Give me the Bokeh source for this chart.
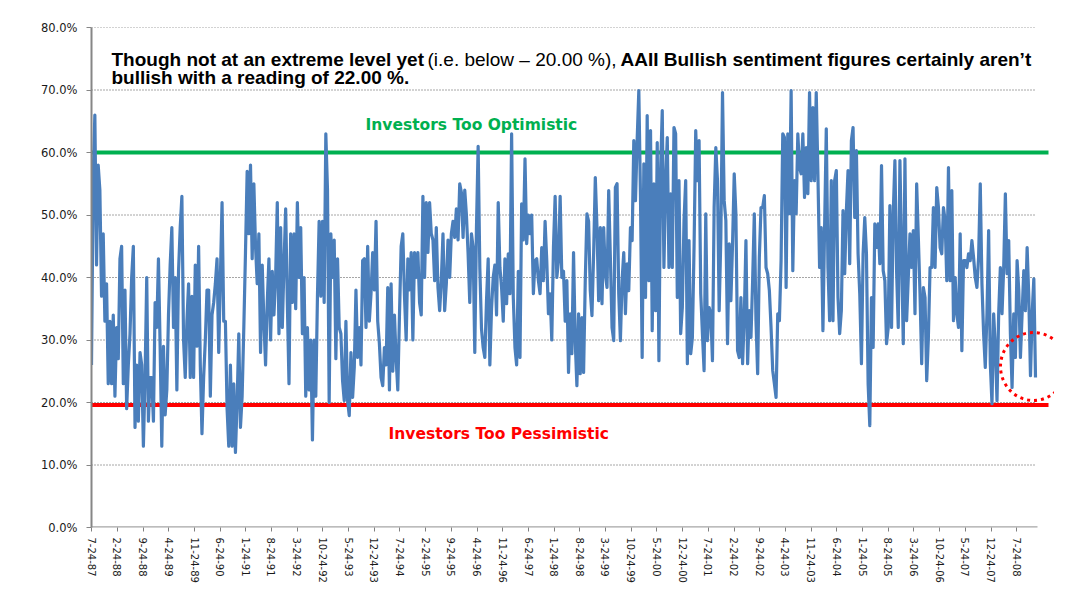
import datetime as dt
import pandas as pd
from bokeh.plotting import figure
from bokeh.models import Range1d, FixedTicker, PrintfTickFormatter, Label, ColumnDataSource
from bokeh.embed import file_html
from bokeh.resources import INLINE

# ---------------- data (AAII bullish %) ----------------
BULLISH_PART_1 = [
    26, 56, 66, 42, 58, 54, 37, 47, 33, 39,
    23, 33, 23, 34, 21, 32, 27, 43, 45, 23,
    38, 19, 26, 31, 40, 45, 16, 26, 17, 28,
    26, 13, 24, 40, 17, 24, 24, 17, 36, 32,
    43, 29, 13, 29, 18, 22, 34, 42, 48, 32,
    40, 22, 41, 48, 53, 30, 24, 33, 39, 24,
    37, 24, 42, 29, 45, 26, 15, 24, 30, 38,
    38, 21, 34, 36, 39, 43, 28, 40, 52, 33,
    33, 19, 13, 26, 13, 23, 12, 20, 31, 16,
    21, 32, 44, 57, 47, 58, 43, 55, 45, 39,
    47, 28, 42, 33, 26, 36, 43, 30, 41, 34,
    40, 52, 31, 48, 32, 42, 51, 36, 23, 47,
    36, 47, 35, 52, 40, 48, 31, 40, 21, 32,
    22, 30, 14, 30, 21, 37, 49, 37, 49, 36,
]
BULLISH_PART_2 = [
    63, 54, 20, 47, 40, 46, 27, 43, 32, 31,
    23.5, 20.3, 33, 20.3, 17.9, 28, 20.8, 25.6, 38, 27.2,
    32, 26, 42.7, 43, 32, 45, 33, 37.4, 44, 38,
    49, 33, 29.4, 24, 22.7, 28.8, 26, 38.4, 22, 39,
    25, 34, 27, 22, 34, 45, 47, 37, 30, 43,
    38, 44, 30, 44, 40, 44, 36, 34, 53, 40,
    52, 44, 52, 47, 46, 39.5, 48, 38.4, 34.7, 39.5,
    47, 34.7, 39, 46, 40, 47, 49, 46.4, 51, 46,
    55, 53.6, 46.4, 54, 50, 43.8, 36, 47, 44.8, 28,
    48, 61, 41.6, 31.8, 28.8, 27.2, 36.3, 43, 26, 35,
    40, 42, 34, 52, 41.6, 38.4, 33, 43, 35.8, 43.8,
    37.4, 63, 36.8, 28.8, 26, 41, 27.2, 51.8, 46, 59,
    45.4, 50, 47, 50, 37.4, 42.7, 43, 39.5, 37.4, 44.8,
    39.5, 49, 42.7, 34.2, 37.4, 30, 44.8, 53, 40, 42.7, 53, 40,
]
BULLISH_PART_3 = [
    41, 33, 39.5, 24.8, 34.2, 27.8, 44, 29.9, 22.7, 34.2,
    24.6, 33.6, 24.8, 39.5, 50.2, 49, 37.9, 33.9, 43.8, 56,
    48, 36.3, 48, 35.8, 48, 40.6, 38.4, 53.9, 43.2, 32,
    29.9, 54.4, 55, 37.4, 29.9, 39.5, 44, 34.2, 42.2, 37.9,
    48, 45.9, 61.9, 52.3, 61.9, 69.9, 52.8, 27.2, 58.2, 36.8,
    65.9, 39.5, 63.5, 31.5, 55, 34.7, 61.6, 26.7, 57.1, 66.7,
    41.6, 55, 62.4, 41.6, 53.4, 41.6, 64, 63, 36.8, 55.5,
    31, 35.2, 49.1, 55.5, 26.2, 45.9, 27.8, 30.4, 44.8, 63.5,
    55.5, 61.9, 37.4, 31, 25.1, 50.2, 29.9, 35.2, 34.2, 26.7,
    51.2, 60.8, 55.5, 34.7, 46.4, 69.6, 52.3, 49.1, 29.4, 45.4,
    36.3, 45.4, 56.6, 50.2, 28.3, 27.2, 36.8, 26.2, 33.6, 45.9,
    26.2, 34.7, 30.4, 39.5, 50.2, 33.1, 24.6, 43.2, 51.2, 51.2,
    53.1, 41.6, 40.6, 37.9, 32, 25.1, 23, 20.8, 34.2, 33.1,
    42.7, 63, 62.4, 38.4, 63, 50.2, 69.9, 41.1, 55.5, 50.2, 63, 57.6,
]
BULLISH_PART_4 = [
    56.6, 63, 52.8, 60.8, 53.4, 69.6, 55.5, 67.2, 55.5, 69.6,
    56.6, 41.6, 48, 31.5, 48, 63.8, 41.6, 33.1, 55.5, 33.1,
    55.5, 57.1, 36.8, 31, 34.7, 50.7, 40.6, 50.7, 57.1, 42.2,
    61.9, 64, 49.6, 60.3, 43.8, 37.4, 26.2, 43.8, 49.6, 43.8,
    23, 16.3, 36.8, 28.8, 48.6, 44.8, 48.6, 42.2, 57.9, 41.1,
    39.5, 29.4, 32, 51.5, 32, 50.2, 58.7, 41.1, 32, 58.7,
    43.8, 29.4, 59, 33.1, 40, 47, 41.6, 47.5, 34.2, 55,
    46.4, 37.4, 26.2, 38.4, 36.8, 23.5, 30.4, 41.6, 41.6, 51.2,
    41.6, 54.4, 51.2, 44.8, 43.8, 51.2, 49.1, 39.5, 57.6, 39.5,
    53.9, 33.1, 40, 34.2, 32, 47, 28.3, 42.7, 42.7, 41.6,
    43.8, 42.7, 45.9, 43.2, 40, 38.4, 43.2, 55, 39, 31,
    25.6, 34.2, 47.5, 26.2, 19.8, 34.2, 28.8, 20.3, 34.2, 41.6,
    34.2, 41.6, 53.4, 40.6, 45.9, 31, 22.4, 34.2, 27.2, 42.7,
    37.9, 27.2, 34.2, 41.1, 34.7, 44.8, 36.8, 24.3, 34.2, 39.8, 24,
]
DATA_START = "1987-07-24"
DATA_END = "2008-12-26"

TICK_LABELS = [
    "7-24-87", "2-24-88", "9-24-88", "4-24-89", "11-24-89", "6-24-90", "1-24-91",
    "8-24-91", "3-24-92", "10-24-92", "5-24-93", "12-24-93", "7-24-94", "2-24-95",
    "9-24-95", "4-24-96", "11-24-96", "6-24-97", "1-24-98", "8-24-98", "3-24-99",
    "10-24-99", "5-24-00", "12-24-00", "7-24-01", "2-24-02", "9-24-02", "4-24-03",
    "11-24-03", "6-24-04", "1-24-05", "8-24-05", "3-24-06", "10-24-06", "5-24-07",
    "12-24-07", "7-24-08",
]
Y_TICKS = [0, 10, 20, 30, 40, 50, 60, 70, 80]
OPTIMISTIC_LEVEL = 60.0
PESSIMISTIC_LEVEL = 19.6

TITLE_BOLD_1 = "Though not at an extreme level yet "
TITLE_NORMAL = "(i.e. below \u2013 20.00 %),"
TITLE_BOLD_2 = "AAII Bullish sentiment figures certainly aren\u2019t"
TITLE_LINE_2 = "bullish with a reading of 22.00 %."
OPTIMISTIC_TEXT = "Investors Too Optimistic"
PESSIMISTIC_TEXT = "Investors Too Pessimistic"

# ---------------- helpers ----------------
EPOCH = pd.Timestamp("1970-01-01")


def ms(ts):
    return int((pd.Timestamp(ts) - EPOCH) // pd.Timedelta(milliseconds=1))


values = BULLISH_PART_1 + BULLISH_PART_2 + BULLISH_PART_3 + BULLISH_PART_4
dates = pd.date_range(DATA_START, DATA_END, periods=len(values))

start_ts = pd.Timestamp(DATA_START)
end_ts = pd.Timestamp(DATA_END)
# layout geometry (pixels of the picture)
PX_START, PX_END = 91, 1035
DAYS_PER_PX = (end_ts - start_ts).days / (PX_END - PX_START)
PX_ZERO, PX_PER_PCT = 527.0, 6.25


def px_x(px):
    return ms(start_ts + pd.Timedelta(days=(px - PX_START) * DAYS_PER_PX))


def px_y(py):
    return (PX_ZERO - py) / PX_PER_PCT


x_start = ms(start_ts)
x_end = px_x(1054)

p = figure(
    width=1054, height=595,
    x_axis_type="datetime",
    x_range=Range1d(start=x_start, end=x_end),
    y_range=Range1d(start=0, end=80),
    output_backend="svg", toolbar_location=None,
    min_border_left=91, min_border_right=0, min_border_top=27, min_border_bottom=68,
)
p.outline_line_color = None
p.background_fill_color = "white"
p.border_fill_color = "white"
p.xgrid.grid_line_color = None
p.ygrid.grid_line_color = None

# dotted horizontal gridlines (they stop short of the right edge)
grid_end = px_x(1034)
gy = [t for t in Y_TICKS if t > 0]
p.segment(x0=[x_start] * len(gy), y0=gy, x1=[grid_end] * len(gy), y1=gy,
          line_color="#4d4d4d", line_width=1, line_dash="1 2")

# x axis baseline
p.segment(x0=[x_start], y0=[0], x1=[px_x(1037)], y1=[0], line_color="#a6a6a6", line_width=2.5)

# threshold lines
p.segment(x0=[x_start, x_start], y0=[OPTIMISTIC_LEVEL, PESSIMISTIC_LEVEL],
          x1=[px_x(1048), px_x(1048)], y1=[OPTIMISTIC_LEVEL, PESSIMISTIC_LEVEL],
          line_color=["#00B050", "#FF0000"], line_width=4)

# the series
src = ColumnDataSource(dict(date=dates, bullish=values))
p.line("date", "bullish", source=src, line_color="#4A7EBB", line_width=3.2, line_join="round")

# dotted circle around the latest readings
p.ellipse(x=[px_x(1033)], y=[px_y(366)], width=66, height=68,
          width_units="screen", height_units="screen",
          fill_color=None, line_color="#FF0000", line_width=3, line_dash="3 4")

# axes
tick_dates = [dt.datetime.strptime(s, "%m-%d-%y") for s in TICK_LABELS]
tick_ms = [ms(d) for d in tick_dates]
xa = p.xaxis[0]
xa.ticker = FixedTicker(ticks=tick_ms)
xa.major_label_overrides = {t: s for t, s in zip(tick_ms, TICK_LABELS)}
xa.major_label_orientation = "vertical"
xa.axis_line_color = None
xa.major_tick_out = 4
xa.major_tick_in = 0
xa.major_tick_line_color = "#808080"
xa.minor_tick_line_color = None
xa.major_label_standoff = 6
xa.major_label_text_font = "DejaVu Sans"
xa.major_label_text_font_size = "10px"
xa.major_label_text_color = "#1a1a1a"

ya = p.yaxis[0]
ya.ticker = FixedTicker(ticks=Y_TICKS)
ya.formatter = PrintfTickFormatter(format="%.1f%%")
ya.axis_line_color = "#868686"
ya.axis_line_width = 2
ya.major_tick_out = 5
ya.major_tick_in = 0
ya.major_tick_line_color = "#868686"
ya.minor_tick_line_color = None
ya.major_label_standoff = 9
ya.major_label_text_font = "DejaVu Sans"
ya.major_label_text_font_size = "11.5px"
ya.major_label_text_color = "#1a1a1a"

# title text (inside the plot)
TFONT = "Liberation Sans"
TSIZE = "19px"
for txt, px, py, style in [
    (TITLE_BOLD_1, 111, 58.5, "bold"),
    (TITLE_NORMAL, 427, 58.5, "normal"),
    (TITLE_BOLD_2, 620, 58.5, "bold"),
    (TITLE_LINE_2, 111, 77, "bold"),
]:
    p.add_layout(Label(x=px_x(px), y=px_y(py), text=txt, text_font=TFONT,
                       text_font_size=TSIZE, text_font_style=style,
                       text_color="#000000", text_baseline="alphabetic"))

p.add_layout(Label(x=px_x(365), y=px_y(124), text=OPTIMISTIC_TEXT, text_font="DejaVu Sans",
                   text_font_size="15.5px", text_font_style="bold", text_color="#00B050",
                   text_baseline="alphabetic"))
p.add_layout(Label(x=px_x(388), y=px_y(433), text=PESSIMISTIC_TEXT, text_font="DejaVu Sans",
                   text_font_size="15.5px", text_font_style="bold", text_color="#FF0000",
                   text_baseline="alphabetic"))

open("out.html", "w").write(file_html(p, INLINE))
